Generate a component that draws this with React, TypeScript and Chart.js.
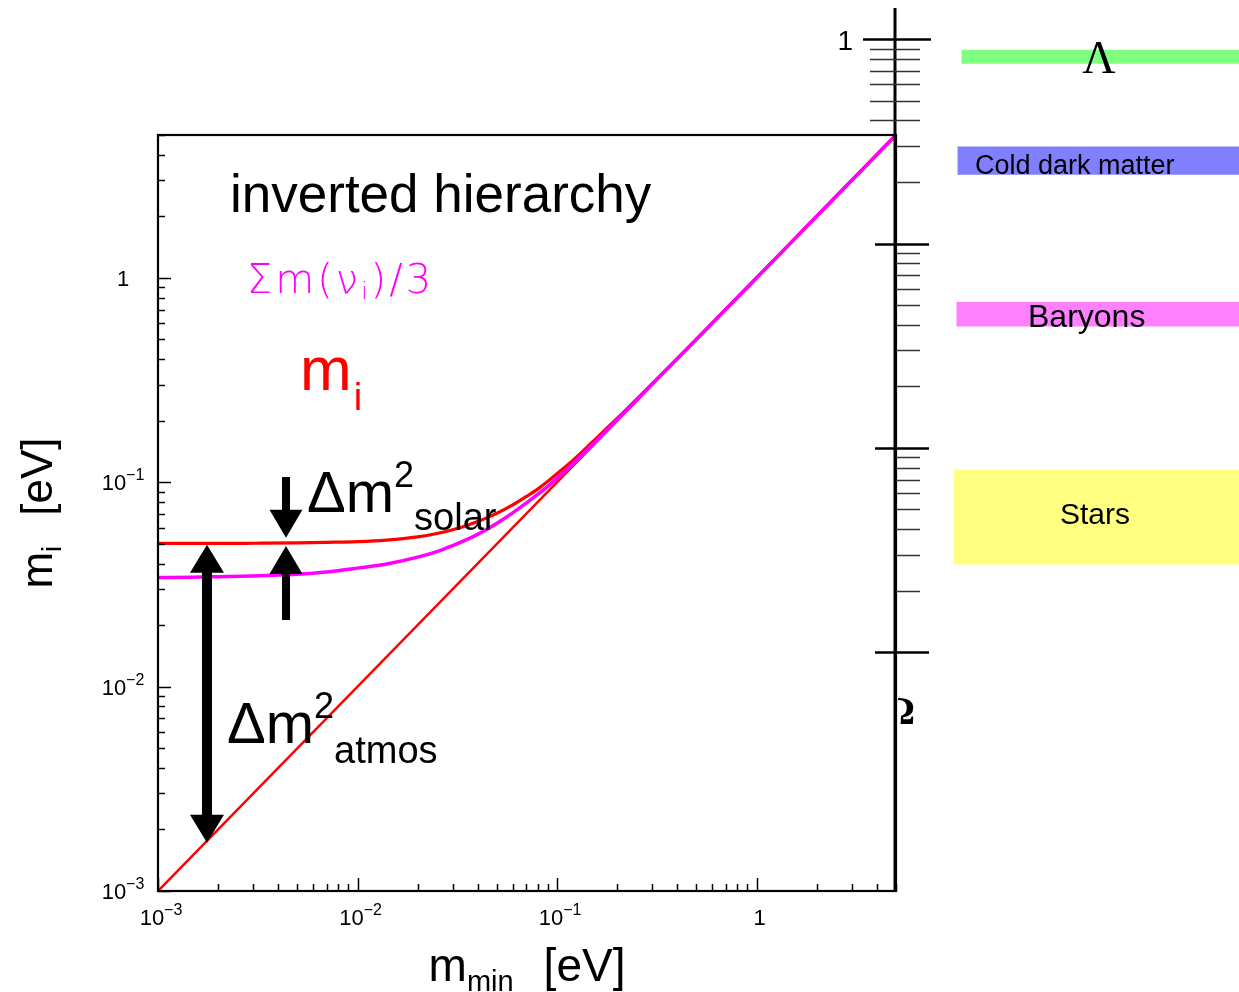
import React, { useEffect, useRef } from "react";
import { Chart, registerables } from "chart.js";

Chart.register(...registerables);

// ---------------- data ----------------
const mMin = [0.001, 0.0015, 0.002, 0.003, 0.005, 0.007, 0.01, 0.014, 0.02, 0.025, 0.03, 0.035, 0.04, 0.045, 0.05, 0.06, 0.07, 0.08, 0.09, 0.1, 0.12, 0.15, 0.2, 0.3, 0.5, 1, 2, 5];
// heaviest mass eigenstate m_i (red curve)
const mHeavy = [0.0502, 0.0502, 0.0502, 0.0503, 0.0505, 0.0508, 0.0512, 0.0521, 0.054, 0.0561, 0.0585, 0.0612, 0.0642, 0.0673, 0.0705, 0.0775, 0.085, 0.0925, 0.101, 0.11, 0.128, 0.157, 0.205, 0.304, 0.502, 1.0, 2.0, 5.0];
// Σm(ν_i)/3 (magenta curve)
const mAverage = [0.0342, 0.0343, 0.0345, 0.0348, 0.0355, 0.0364, 0.038, 0.0398, 0.043, 0.0458, 0.049, 0.0522, 0.0556, 0.0592, 0.063, 0.0708, 0.079, 0.0872, 0.0955, 0.1045, 0.123, 0.152, 0.202, 0.302, 0.501, 1.0, 2.0, 5.0];
// lightest state m_min itself (red diagonal)
const diagX = [0.001, 5];
const diagY = [0.001, 5];

// axis ticks and labels
const xTickValues = [0.001, 0.01, 0.1, 1];
const xTickExponents = ["−3", "−2", "−1", ""];
const yTickValues = [0.001, 0.01, 0.1, 1];
const yTickExponents = ["−3", "−2", "−1", ""];

// cosmological density bands on the Ω scale
const bandNames = ["Λ", "Cold dark matter", "Baryons", "Stars"];
const bandLow = [0.76, 0.218, 0.0394, 0.0027];
const bandHigh = [0.883, 0.297, 0.0516, 0.0078];
const bandColors = ["#80ff80", "#8080ff", "#ff80ff", "#ffff80"];
const omegaMajorTicks = [1, 0.1, 0.01, 0.001];

// arrows (m_min position, tail value, tip value)
const atmosArrow = { x: 0.00176, lo: 0.00172, hi: 0.0495 };
const solarDownArrow = { x: 0.00438, from: 0.106, to: 0.0535 };
const solarUpArrow = { x: 0.00438, from: 0.0213, to: 0.0487 };

// ---------------- constants ----------------
const X_MIN = 0.001;
const X_MAX = 5;
const Y_MIN = 0.001;
const Y_MAX = 5;
const EV_PER_OMEGA = 14.72; // Ω_ν per neutrino mass

const SANS = '"Liberation Sans", Arial, Helvetica, sans-serif';
const SERIF = '"Liberation Serif", "Times New Roman", serif';
const THIN = '"DejaVu Sans", sans-serif';

type Part = { t: string; size: number; dy?: number; fam?: string; weight?: string; after?: number; ls?: number };

function partFont(p: Part) {
  return `${p.weight || "normal"} ${p.size}px ${p.fam || SANS}`;
}

function richWidth(ctx: CanvasRenderingContext2D, parts: Part[]) {
  let w = 0;
  for (const p of parts) {
    ctx.font = partFont(p);
    (ctx as any).letterSpacing = `${p.ls || 0}px`;
    w += ctx.measureText(p.t).width + (p.after || 0);
  }
  (ctx as any).letterSpacing = "0px";
  return w;
}

function drawRich(ctx: CanvasRenderingContext2D, parts: Part[], x: number, y: number, align: string, color: string) {
  ctx.save();
  ctx.fillStyle = color;
  ctx.textBaseline = "alphabetic";
  ctx.textAlign = "left";
  const w = richWidth(ctx, parts);
  let cx = align === "center" ? x - w / 2 : align === "right" ? x - w : x;
  for (const p of parts) {
    ctx.font = partFont(p);
    (ctx as any).letterSpacing = `${p.ls || 0}px`;
    ctx.fillText(p.t, cx, y + (p.dy || 0));
    cx += ctx.measureText(p.t).width + (p.after || 0);
  }
  (ctx as any).letterSpacing = "0px";
  ctx.restore();
}

function logTicks(min: number, max: number) {
  const out: { v: number; major: boolean }[] = [];
  for (let e = Math.floor(Math.log10(min)); e <= Math.ceil(Math.log10(max)); e++) {
    for (let k = 1; k <= 9; k++) {
      const v = k * Math.pow(10, e);
      if (v >= min * 0.999 && v <= max * 1.001) out.push({ v, major: k === 1 });
    }
  }
  return out;
}

function line(ctx: CanvasRenderingContext2D, x0: number, y0: number, x1: number, y1: number) {
  ctx.beginPath();
  ctx.moveTo(x0, y0);
  ctx.lineTo(x1, y1);
  ctx.stroke();
}

function arrowHead(ctx: CanvasRenderingContext2D, x: number, tipY: number, dir: number, headW: number, headL: number) {
  const baseY = tipY - dir * headL;
  ctx.beginPath();
  ctx.moveTo(x - headW / 2, baseY);
  ctx.lineTo(x + headW / 2, baseY);
  ctx.lineTo(x, tipY);
  ctx.closePath();
  ctx.fill();
  return baseY;
}

function singleArrow(ctx: CanvasRenderingContext2D, x: number, tailY: number, tipY: number, shaft: number, headW: number, headL: number) {
  const dir = Math.sign(tipY - tailY);
  const baseY = arrowHead(ctx, x, tipY, dir, headW, headL);
  ctx.fillRect(x - shaft / 2, Math.min(tailY, baseY), shaft, Math.abs(baseY - tailY) + 0.5);
}

function doubleArrow(ctx: CanvasRenderingContext2D, x: number, topY: number, botY: number, shaft: number, headW: number, headL: number) {
  const b1 = arrowHead(ctx, x, topY, -1, headW, headL);
  const b2 = arrowHead(ctx, x, botY, 1, headW, headL);
  ctx.fillRect(x - shaft / 2, b1 - 0.5, shaft, b2 - b1 + 1);
}

const overlayPlugin = {
  id: "overlay",
  afterDatasetsDraw(chart: any) {
    const ctx: CanvasRenderingContext2D = chart.ctx;
    const { left, right, top, bottom } = chart.chartArea;
    const sx = chart.scales.x;
    const sy = chart.scales.y;
    const so = chart.scales.yO;
    ctx.save();

    // frame
    ctx.strokeStyle = "#000";
    ctx.lineWidth = 2.2;
    ctx.strokeRect(left, top, right - left, bottom - top);

    // inward ticks
    ctx.lineWidth = 1.5;
    for (const t of logTicks(Y_MIN, Y_MAX)) {
      const py = Math.round(sy.getPixelForValue(t.v)) + 0.5;
      line(ctx, left, py, left + (t.major ? 13 : 7), py);
    }
    for (const t of logTicks(X_MIN, X_MAX)) {
      const px = Math.round(sx.getPixelForValue(t.v)) + 0.5;
      line(ctx, px, bottom, px, bottom - (t.major ? 13 : 7));
    }

    // tick labels
    yTickValues.forEach((v, i) => {
      const py = sy.getPixelForValue(v);
      const parts: Part[] = yTickExponents[i]
        ? [{ t: "10", size: 22 }, { t: yTickExponents[i], size: 16, dy: -10 }]
        : [{ t: "1", size: 22 }];
      drawRich(ctx, parts, left - 35, py + 8, "center", "#000");
    });
    xTickValues.forEach((v, i) => {
      const px = sx.getPixelForValue(v);
      const parts: Part[] = xTickExponents[i]
        ? [{ t: "10", size: 22 }, { t: xTickExponents[i], size: 16, dy: -10 }]
        : [{ t: "1", size: 22 }];
      drawRich(ctx, parts, px + 3, bottom + 34, "center", "#000");
    });

    // axis titles
    drawRich(
      ctx,
      [{ t: "m", size: 46 }, { t: "min", size: 29, dy: 10, after: 30 }, { t: "[eV]", size: 46 }],
      (left + right) / 2,
      981,
      "center",
      "#000"
    );
    ctx.save();
    ctx.translate(52, (top + bottom) / 2);
    ctx.rotate(-Math.PI / 2);
    drawRich(
      ctx,
      [{ t: "m", size: 44 }, { t: "i", size: 28, dy: 9, after: 30 }, { t: "[eV]", size: 44 }],
      0,
      0,
      "center",
      "#000"
    );
    ctx.restore();

    // text annotations in the plot
    drawRich(ctx, [{ t: "inverted hierarchy", size: 53 }], left + 72, top + 77, "left", "#000");
    drawRich(
      ctx,
      [
        { t: "Σm(ν", size: 40, fam: THIN, weight: "200", ls: 3 },
        { t: "i", size: 23, dy: 6, fam: THIN, weight: "200", ls: 3 },
        { t: ")/3", size: 40, fam: THIN, weight: "200", ls: 3 },
      ],
      left + 89,
      top + 158,
      "left",
      "#ff00ff"
    );
    drawRich(ctx, [{ t: "m", size: 62, after: 2 }, { t: "i", size: 38, dy: 20 }], left + 142, top + 255, "left", "#ff0000");

    // arrows
    ctx.fillStyle = "#000";
    doubleArrow(
      ctx,
      sx.getPixelForValue(atmosArrow.x),
      sy.getPixelForValue(atmosArrow.hi),
      sy.getPixelForValue(atmosArrow.lo),
      10,
      34,
      28
    );
    singleArrow(
      ctx,
      sx.getPixelForValue(solarDownArrow.x),
      sy.getPixelForValue(solarDownArrow.from),
      sy.getPixelForValue(solarDownArrow.to),
      8,
      33,
      28
    );
    singleArrow(
      ctx,
      sx.getPixelForValue(solarUpArrow.x),
      sy.getPixelForValue(solarUpArrow.from),
      sy.getPixelForValue(solarUpArrow.to),
      8,
      33,
      28
    );

    drawRich(
      ctx,
      [{ t: "Δm", size: 58 }, { t: "2", size: 36, dy: -25 }, { t: "solar", size: 38, dy: 18 }],
      left + 149,
      512,
      "left",
      "#000"
    );
    drawRich(
      ctx,
      [{ t: "Δm", size: 58 }, { t: "2", size: 36, dy: -25 }, { t: "atmos", size: 38, dy: 20 }],
      left + 69,
      743,
      "left",
      "#000"
    );

    // Ω axis on the right
    const ax = right - 1;
    ctx.strokeStyle = "#000";
    ctx.lineWidth = 3;
    line(ctx, ax, 8, ax, bottom);
    omegaMajorTicks.forEach((v, i) => {
      const py = Math.round(so.getPixelForValue(v)) + 0.5;
      ctx.lineWidth = 2.5;
      if (i === 0) line(ctx, ax - 32, py, ax + 36, py);
      else line(ctx, ax - 20, py, ax + 34, py);
      if (i < omegaMajorTicks.length - 1) {
        ctx.lineWidth = 1.5;
        ctx.strokeStyle = "#333";
        for (let k = 2; k <= 9; k++) {
          const pm = Math.round(so.getPixelForValue((k * v) / 10)) + 0.5;
          if (pm < top) line(ctx, ax - 25, pm, ax + 25, pm);
          else line(ctx, ax + 1, pm, ax + 25, pm);
        }
        ctx.strokeStyle = "#000";
      }
    });
    drawRich(ctx, [{ t: "1", size: 28 }], ax - 42, so.getPixelForValue(1) + 11, "right", "#000");
    // Ω symbol, its left half hidden behind the plot
    ctx.save();
    ctx.beginPath();
    ctx.rect(ax + 3, 680, 60, 60);
    ctx.clip();
    drawRich(ctx, [{ t: "Ω", size: 40, fam: SERIF, weight: "bold" }], ax + 4, 724, "center", "#000");
    ctx.restore();

    // band labels
    const bandPix = bandNames.map((_, i) => ({
      lo: so.getPixelForValue(bandLow[i]),
      hi: so.getPixelForValue(bandHigh[i]),
    }));
    drawRich(ctx, [{ t: bandNames[0], size: 46, fam: SERIF }], 1099, bandPix[0].lo + 9, "center", "#000");
    drawRich(ctx, [{ t: bandNames[1], size: 27 }], 975, bandPix[1].lo, "left", "#000");
    drawRich(ctx, [{ t: bandNames[2], size: 32 }], 1028, bandPix[2].lo + 1, "left", "#000");
    drawRich(ctx, [{ t: bandNames[3], size: 30 }], 1060, (bandPix[3].lo + bandPix[3].hi) / 2 + 7, "left", "#000");

    ctx.restore();
  },
};

const BAND_CENTER = 1.283; // on the hidden band axis
const bandThickness = [286, 294, 296, 302];

export default function App() {
  const ref = useRef<HTMLCanvasElement>(null);

  useEffect(() => {
    const canvas = ref.current;
    if (!canvas) return;
    const lineOpts = { pointRadius: 0, fill: false, xAxisID: "x", yAxisID: "y" };
    const chart = new Chart(canvas, {
      type: "line",
      data: {
        datasets: [
          {
            type: "line",
            label: "Σm(νi)/3",
            data: mMin.map((x, i) => ({ x, y: mAverage[i] })),
            borderColor: "#ff00ff",
            borderWidth: 3.5,
            cubicInterpolationMode: "monotone",
            order: 0,
            ...lineOpts,
          },
          {
            type: "line",
            label: "m_i",
            data: mMin.map((x, i) => ({ x, y: mHeavy[i] })),
            borderColor: "#ff0000",
            borderWidth: 3.2,
            cubicInterpolationMode: "monotone",
            order: 1,
            ...lineOpts,
          },
          {
            type: "line",
            label: "m_min",
            data: diagX.map((x, i) => ({ x, y: diagY[i] })),
            borderColor: "#ff0000",
            borderWidth: 2.5,
            order: 2,
            ...lineOpts,
          },
          ...bandNames.map((name, i) => ({
            type: "bar",
            label: name,
            data: [{ x: BAND_CENTER, y: [bandLow[i], bandHigh[i]] }],
            backgroundColor: bandColors[i],
            borderWidth: 0,
            grouped: false,
            barThickness: bandThickness[i],
            xAxisID: "xB",
            yAxisID: "yO",
            clip: false,
            order: 5,
          })),
        ] as any,
      },
      options: {
        responsive: false,
        maintainAspectRatio: false,
        animation: false,
        events: [],
        layout: { padding: { left: 158, top: 135, right: 343, bottom: 101 } },
        plugins: {
          legend: { display: false },
          tooltip: { enabled: false },
          title: { display: false },
        },
        scales: {
          x: { type: "logarithmic", min: X_MIN, max: X_MAX, display: false },
          y: { type: "logarithmic", min: Y_MIN, max: Y_MAX, display: false },
          xB: { type: "linear", min: 0, max: 1, display: false, offset: false },
          yO: {
            type: "logarithmic",
            min: Y_MIN / EV_PER_OMEGA,
            max: Y_MAX / EV_PER_OMEGA,
            display: false,
            beginAtZero: false,
          },
        },
      } as any,
      plugins: [overlayPlugin],
    });
    return () => chart.destroy();
  }, []);

  return (
    <div style={{ position: "absolute", left: 0, top: 0, width: 1239, height: 992, background: "#fff", overflow: "hidden" }}>
      <canvas ref={ref} width={1239} height={992} style={{ display: "block", width: 1239, height: 992 }} />
    </div>
  );
}
